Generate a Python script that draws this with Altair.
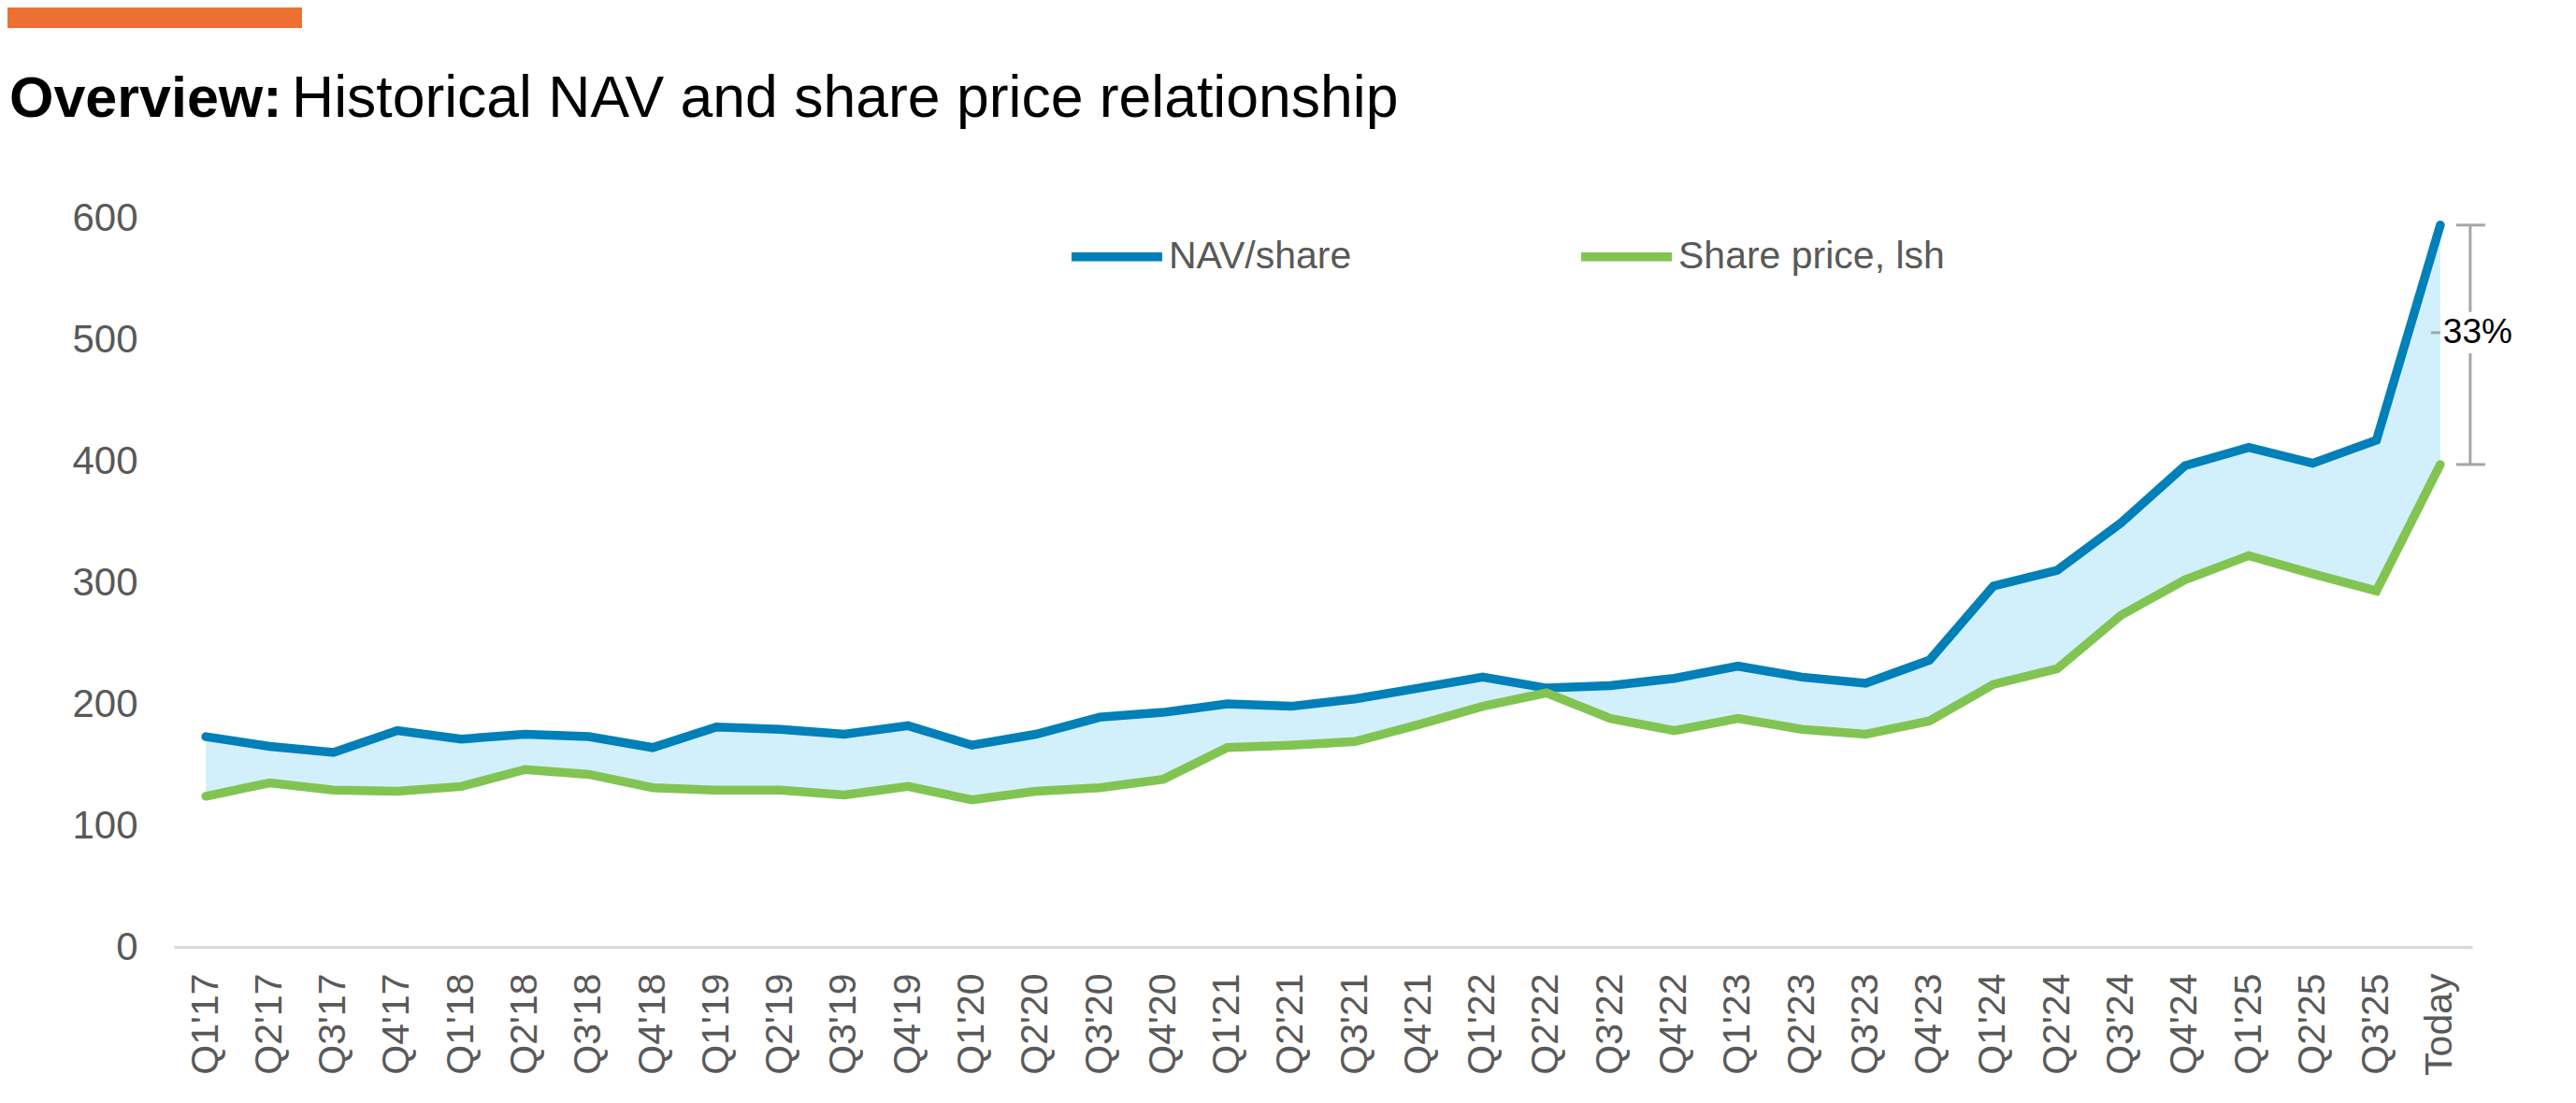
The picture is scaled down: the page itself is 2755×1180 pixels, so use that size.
import altair as alt
import pandas as pd

# ---------------- data ----------------
categories = [
    "Q1'17", "Q2'17", "Q3'17", "Q4'17",
    "Q1'18", "Q2'18", "Q3'18", "Q4'18",
    "Q1'19", "Q2'19", "Q3'19", "Q4'19",
    "Q1'20", "Q2'20", "Q3'20", "Q4'20",
    "Q1'21", "Q2'21", "Q3'21", "Q4'21",
    "Q1'22", "Q2'22", "Q3'22", "Q4'22",
    "Q1'23", "Q2'23", "Q3'23", "Q4'23",
    "Q1'24", "Q2'24", "Q3'24", "Q4'24",
    "Q1'25", "Q2'25", "Q3'25", "Today",
]
nav_share = [
    173, 165, 160, 178,
    171, 175, 173, 164,
    181, 179, 175, 182,
    166, 175, 189, 193,
    200, 198, 204, 213,
    222, 213, 215, 221,
    231, 222, 217, 236,
    297, 310, 349, 396,
    411, 398, 417, 594,
]
share_price = [
    124, 135, 129, 128,
    132, 146, 142, 131,
    129, 129, 125, 132,
    121, 128, 131, 138,
    164, 166, 169, 183,
    198, 209, 188, 178,
    188, 179, 175, 186,
    216, 229, 273, 302,
    322, 307, 293, 397,
]
series_names = ["NAV/share", "Share price, lsh"]
y_ticks = [0, 100, 200, 300, 400, 500, 600]
title_bold = "Overview:"
title_rest = "Historical NAV and share price relationship"

# ---------------- styles ----------------
FONT = "Liberation Sans"
BLUE = "#0080B8"
GREEN = "#82C452"
FILL = "#D1F0FC"
GRAY_TEXT = "#595959"
BRACKET = "#A6A6A6"
ORANGE = "#EA7132"

PLOT_W = 2458
PLOT_H = 780

# ---------------- tables ----------------
wide = pd.DataFrame({"period": categories, "nav": nav_share, "sp": share_price})
long = pd.DataFrame({
    "period": categories * 2,
    "idx": list(range(len(categories))) * 2,
    "series": [series_names[0]] * len(categories) + [series_names[1]] * len(categories),
    "value": nav_share + share_price,
})

nav_last = nav_share[-1]
sp_last = share_price[-1]
mid = (nav_last + sp_last) / 2 + 10
discount = round((1 - sp_last / nav_last) * 100)
ann = pd.DataFrame({
    "period": [categories[-1]],
    "nav": [nav_last],
    "sp": [sp_last],
    "mid": [mid],
    "gap_hi": [mid + 17],
    "gap_lo": [mid - 17],
    "label": [f"{discount}%"],
})
one = pd.DataFrame({"k": [0]})

# ---------------- encodings ----------------
x_scale = alt.Scale(domain=categories, type="point", padding=0.5)
y_scale = alt.Scale(domain=[0, 600], nice=False, zero=True)

x_axis = alt.Axis(
    title=None, labelAngle=270, labelFontSize=41, labelColor=GRAY_TEXT,
    labelFont=FONT, domainColor="#D9D9D9", domainWidth=3, ticks=False,
    tickSize=0, labelPadding=28, grid=False, labelLimit=400,
)
y_axis = alt.Axis(
    title=None, values=y_ticks, domain=False, ticks=False, tickSize=0,
    grid=False, labelFontSize=42, labelColor=GRAY_TEXT, labelFont=FONT,
    labelPadding=39,
)

x_enc = alt.X("period:N", scale=x_scale, axis=x_axis, sort=categories)


def y_enc(field):
    return alt.Y(field, scale=y_scale, axis=y_axis)


area = alt.Chart(wide).mark_area(color=FILL, opacity=1).encode(
    x=x_enc,
    y=y_enc("nav:Q"),
    y2="sp:Q",
)

lines = alt.Chart(long).mark_line(strokeWidth=9.5, strokeCap="round").encode(
    x=x_enc,
    y=y_enc("value:Q"),
    color=alt.Color(
        "series:N",
        scale=alt.Scale(domain=series_names, range=[BLUE, GREEN]),
        legend=alt.Legend(
            title=None, orient="none", legendX=955, legendY=-12,
            direction="horizontal", symbolType="stroke", symbolSize=9409,
            symbolStrokeWidth=9.5, labelFontSize=41, labelFont=FONT,
            labelColor=GRAY_TEXT, labelOffset=2, columnPadding=226,
            labelLimit=1000,
        ),
    ),
    order=alt.Order("idx:Q"),
)

br_up = alt.Chart(ann).mark_rule(color=BRACKET, strokeWidth=3, xOffset=32, x2Offset=32).encode(
    x=x_enc, y=y_enc("nav:Q"), y2="gap_hi:Q")
br_low = alt.Chart(ann).mark_rule(color=BRACKET, strokeWidth=3, xOffset=32, x2Offset=32).encode(
    x=x_enc, y=y_enc("gap_lo:Q"), y2="sp:Q")
tick_top = alt.Chart(ann).mark_rule(color=BRACKET, strokeWidth=3, xOffset=17, x2Offset=48).encode(
    x=x_enc, x2="period:N", y=y_enc("nav:Q"))
tick_bot = alt.Chart(ann).mark_rule(color=BRACKET, strokeWidth=3, xOffset=17, x2Offset=48).encode(
    x=x_enc, x2="period:N", y=y_enc("sp:Q"))
dash = alt.Chart(ann).mark_rule(color=BRACKET, strokeWidth=3, xOffset=-10, x2Offset=0).encode(
    x=x_enc, x2="period:N", y=y_enc("mid:Q"))
pct = alt.Chart(ann).mark_text(
    align="left", baseline="middle", dx=3, fontSize=37, font=FONT, color="#000000"
).encode(x=x_enc, y=y_enc("mid:Q"), text="label:N")

bar = alt.Chart(one).mark_rect(color=ORANGE).encode(
    x=alt.value(-178), x2=alt.value(137), y=alt.value(-225), y2=alt.value(-203))
t1 = alt.Chart(one).mark_text(
    align="left", baseline="alphabetic", fontSize=61, fontWeight="bold",
    font=FONT, color="#000000"
).encode(x=alt.value(-176), y=alt.value(-108), text=alt.value(title_bold))
t2 = alt.Chart(one).mark_text(
    align="left", baseline="alphabetic", fontSize=62.5, font=FONT, color="#000000"
).encode(x=alt.value(126), y=alt.value(-108), text=alt.value(title_rest))

chart = alt.layer(
    area, lines, br_up, br_low, tick_top, tick_bot, dash, pct, bar, t1, t2
).properties(
    width=PLOT_W,
    height=PLOT_H,
    autosize=alt.AutoSizeParams(type="none"),
    padding={"left": 178, "top": 225, "right": 60, "bottom": 150},
).configure_view(stroke=None)

chart.save("out.html", embed_options={"renderer": "svg", "actions": False})
